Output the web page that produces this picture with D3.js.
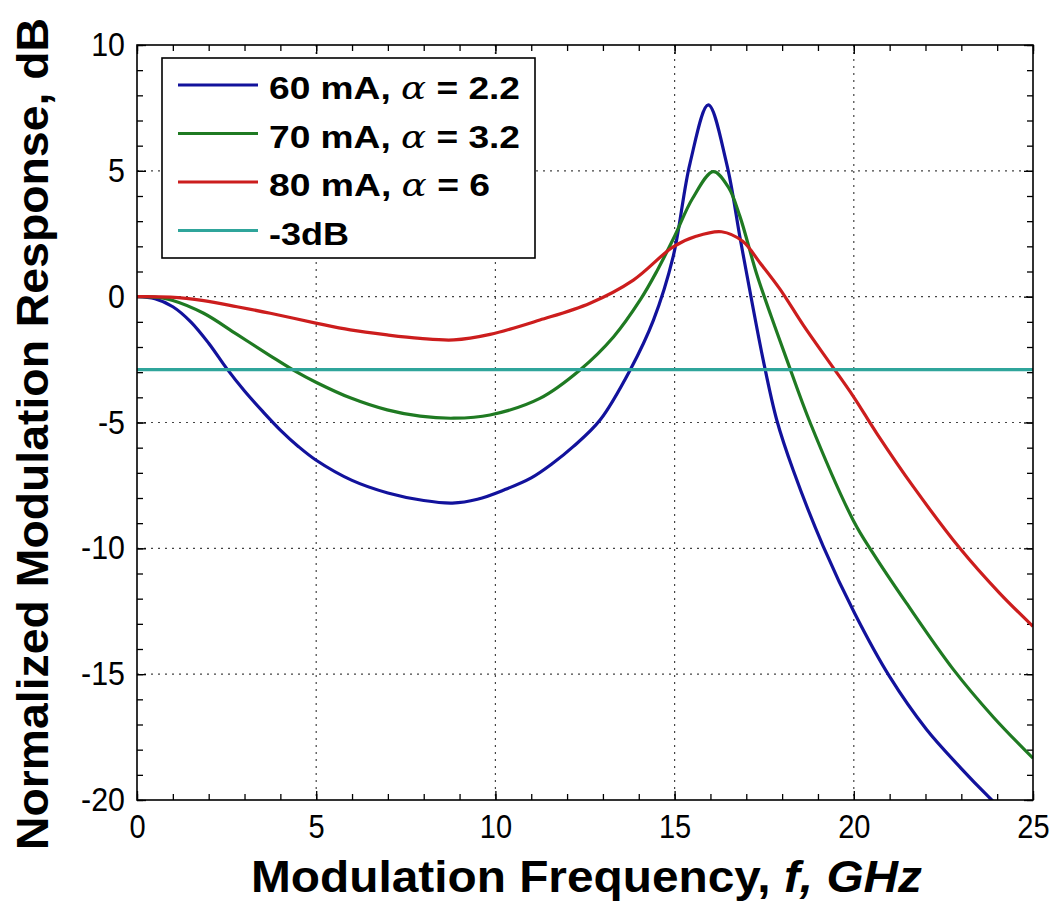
<!DOCTYPE html>
<html>
<head>
<meta charset="utf-8">
<script src="https://cdn.jsdelivr.net/npm/d3@7/dist/d3.min.js"></script>
<style>
  body { margin: 0; background: #fff; }
  text { font-family: "Liberation Sans", Arial, sans-serif; }
</style>
</head>
<body>
<div id="chart"></div>
<script>
// frequency (GHz) / response (dB)
var blueF = [0, 0.5, 1.0, 1.5, 2.0, 2.5, 3.0, 3.5, 4.0, 4.5, 5.0, 6.0, 7.0, 8.0, 8.8, 9.5, 10.24, 11.0, 11.6, 12.17, 12.92, 13.76, 14.41, 14.96, 15.43, 15.94, 16.45, 16.82, 17.0, 17.47, 17.85, 18.31, 19.15, 20.03, 21.0, 22.03, 23.0, 23.75, 24.5];
var blueDb = [0, -0.08, -0.4, -1.0, -1.85, -2.85, -3.75, -4.55, -5.3, -5.95, -6.5, -7.3, -7.8, -8.1, -8.2, -8.05, -7.68, -7.2, -6.62, -5.96, -4.9, -2.91, -0.93, 1.59, 5.3, 7.62, 5.3, 2.39, 1.0, -2.5, -4.9, -6.9, -9.93, -12.6, -15.1, -17.2, -18.75, -19.86, -20.9];

var greenF = [0, 0.5, 1.0, 1.86, 2.79, 3.72, 4.4, 5.02, 5.95, 6.98, 7.9, 8.84, 9.85, 11.24, 12.36, 13.3, 14.04, 14.5, 15.0, 15.5, 16.08, 16.5, 16.82, 17.29, 17.7, 18.13, 18.78, 19.99, 20.54, 21.47, 22.77, 23.89, 25.0];
var greenDb = [0, -0.02, -0.15, -0.66, -1.5, -2.35, -2.95, -3.42, -4.02, -4.5, -4.75, -4.83, -4.7, -4.04, -2.91, -1.59, -0.13, 1.0, 2.4, 3.9, 4.97, 4.35, 3.2, 0.9, -0.8, -2.5, -5.0, -8.9, -10.2, -12.18, -14.8, -16.7, -18.34];

var redF = [0, 0.93, 1.86, 2.79, 3.72, 5.02, 5.95, 6.98, 7.9, 8.84, 9.85, 11.24, 12.64, 13.85, 14.96, 15.6, 16.31, 16.9, 17.38, 17.94, 18.6, 19.34, 19.99, 20.64, 21.66, 22.96, 24.08, 25.0];
var redDb = [0, -0.02, -0.16, -0.4, -0.66, -1.06, -1.32, -1.52, -1.66, -1.72, -1.5, -0.93, -0.26, 0.66, 1.98, 2.4, 2.58, 2.2, 1.35, 0.3, -1.15, -2.65, -3.97, -5.43, -7.55, -10.0, -11.8, -13.1];

var cutF = [0, 25];
var cutDb = [-2.9, -2.9];

var series = [
  { f: blueF, db: blueDb, color: "#12129c" },
  { f: greenF, db: greenDb, color: "#1f7a22" },
  { f: redF, db: redDb, color: "#cc1d1d" },
  { f: cutF, db: cutDb, color: "#2fa59b" }
];
var legendLabels = [
  ["60 mA, ", "\u03b1", " = 2.2"],
  ["70 mA, ", "\u03b1", " = 3.2"],
  ["80 mA, ", "\u03b1", " = 6"],
  ["-3dB", "", ""]
];
var legendWidths = [251, 251, 221, 80];
var xTicks = [0, 5, 10, 15, 20, 25];
var yTicks = [10, 5, 0, -5, -10, -15, -20];

var W = 1062, H = 907;
var margin = { top: 45, right: 29, bottom: 107, left: 137 };
var width = W - margin.left - margin.right,
  height = H - margin.top - margin.bottom;

var svg = d3.select("#chart").append("svg")
  .attr("width", W)
  .attr("height", H);

var g = svg.append("g").attr("transform", "translate(" + margin.left + "," + margin.top + ")");

var x = d3.scaleLinear().domain([0, 25]).range([0, width]);
var y = d3.scaleLinear().domain([-20, 10]).range([height, 0]);

g.append("clipPath").attr("id", "clip")
  .append("rect").attr("width", width).attr("height", height);

// grid
g.selectAll(".gx").data(xTicks.slice(1, -1)).enter().append("line")
  .attr("x1", d => x(d)).attr("x2", d => x(d))
  .attr("y1", 0).attr("y2", height)
  .attr("stroke", "#444").attr("stroke-width", 1.2).attr("stroke-dasharray", "2,5");
g.selectAll(".gy").data(yTicks.slice(1, -1)).enter().append("line")
  .attr("y1", d => y(d)).attr("y2", d => y(d))
  .attr("x1", 0).attr("x2", width)
  .attr("stroke", "#444").attr("stroke-width", 1.2).attr("stroke-dasharray", "2,5");

// axes with inward ticks on all sides
function addAxis(axis, tr) {
  var a = g.append("g").attr("transform", tr).call(axis);
  a.select(".domain").remove();
  a.selectAll("line").attr("stroke", "#000").attr("stroke-width", 1.3);
  return a;
}
function squeeze(sel, k) {
  sel.each(function() {
    var len = this.getComputedTextLength();
    d3.select(this).attr("textLength", len * k).attr("lengthAdjust", "spacingAndGlyphs");
  });
}
var fmt = d => String(d);
var xMinor = d3.range(0, 26, 1), yMinor = d3.range(-20, 11, 1);
addAxis(d3.axisBottom(x).tickValues(xMinor).tickSize(-6).tickFormat(""), "translate(0," + height + ")");
addAxis(d3.axisTop(x).tickValues(xMinor).tickSize(-6).tickFormat(""), "translate(0,0)");
addAxis(d3.axisLeft(y).tickValues(yMinor).tickSize(-6).tickFormat(""), "translate(0,0)");
addAxis(d3.axisRight(y).tickValues(yMinor).tickSize(-6).tickFormat(""), "translate(" + width + ",0)");

var xa = addAxis(d3.axisBottom(x).tickValues(xTicks).tickSize(-9).tickPadding(15).tickFormat(fmt), "translate(0," + height + ")");
xa.selectAll("text").attr("font-size", 33).attr("fill", "#000").call(squeeze, 0.88);
addAxis(d3.axisTop(x).tickValues(xTicks).tickSize(-9).tickFormat(""), "translate(0,0)");
var ya = addAxis(d3.axisLeft(y).tickValues(yTicks).tickSize(-9).tickPadding(12).tickFormat(fmt), "translate(0,0)");
ya.selectAll("text").attr("font-size", 33).attr("fill", "#000").call(squeeze, 0.92);
addAxis(d3.axisRight(y).tickValues(yTicks).tickSize(-9).tickFormat(""), "translate(" + width + ",0)");

// curves
var line = d3.line()
  .x(d => x(d[0])).y(d => y(d[1]))
  .curve(d3.curveCatmullRom.alpha(0.5));

var plot = g.append("g").attr("clip-path", "url(#clip)");
series.forEach(function(s) {
  plot.append("path")
    .datum(d3.zip(s.f, s.db))
    .attr("fill", "none")
    .attr("stroke", s.color)
    .attr("stroke-width", 3.2)
    .attr("d", line);
});

// frame
g.append("rect").attr("width", width).attr("height", height)
  .attr("fill", "none").attr("stroke", "#000").attr("stroke-width", 1.6);

// legend
var lg = svg.append("g").attr("transform", "translate(162,58)");
lg.append("rect").attr("width", 373).attr("height", 200)
  .attr("fill", "#fff").attr("stroke", "#000").attr("stroke-width", 1.6);
legendLabels.forEach(function(lab, i) {
  var yy = 27 + i * 48.5;
  lg.append("line").attr("x1", 16).attr("x2", 96).attr("y1", yy).attr("y2", yy)
    .attr("stroke", series[i].color).attr("stroke-width", 3.2);
  var t = lg.append("text").attr("x", 107).attr("y", yy + 14)
    .attr("font-size", 32).attr("font-weight", "bold").attr("fill", "#000")
    .attr("textLength", legendWidths[i]).attr("lengthAdjust", "spacingAndGlyphs");
  t.append("tspan").text(lab[0]);
  if (lab[1]) t.append("tspan").attr("font-style", "italic").attr("font-family", "'DejaVu Serif', serif").attr("font-weight", "normal").text(lab[1]);
  if (lab[2]) t.append("tspan").text(lab[2]);
});

// axis titles
var xt = svg.append("text")
  .attr("x", 251).attr("y", 892)
  .attr("font-size", 45).attr("font-weight", "bold").attr("fill", "#000")
  .attr("textLength", 671).attr("lengthAdjust", "spacingAndGlyphs");
xt.append("tspan").text("Modulation Frequency, ");
xt.append("tspan").attr("font-style", "italic").text("f, GHz");

svg.append("text")
  .attr("transform", "translate(48,850) rotate(-90)")
  .attr("font-size", 44).attr("font-weight", "bold").attr("fill", "#000")
  .attr("textLength", 832).attr("lengthAdjust", "spacingAndGlyphs")
  .text("Normalized Modulation Response, dB");
</script>
</body>
</html>
